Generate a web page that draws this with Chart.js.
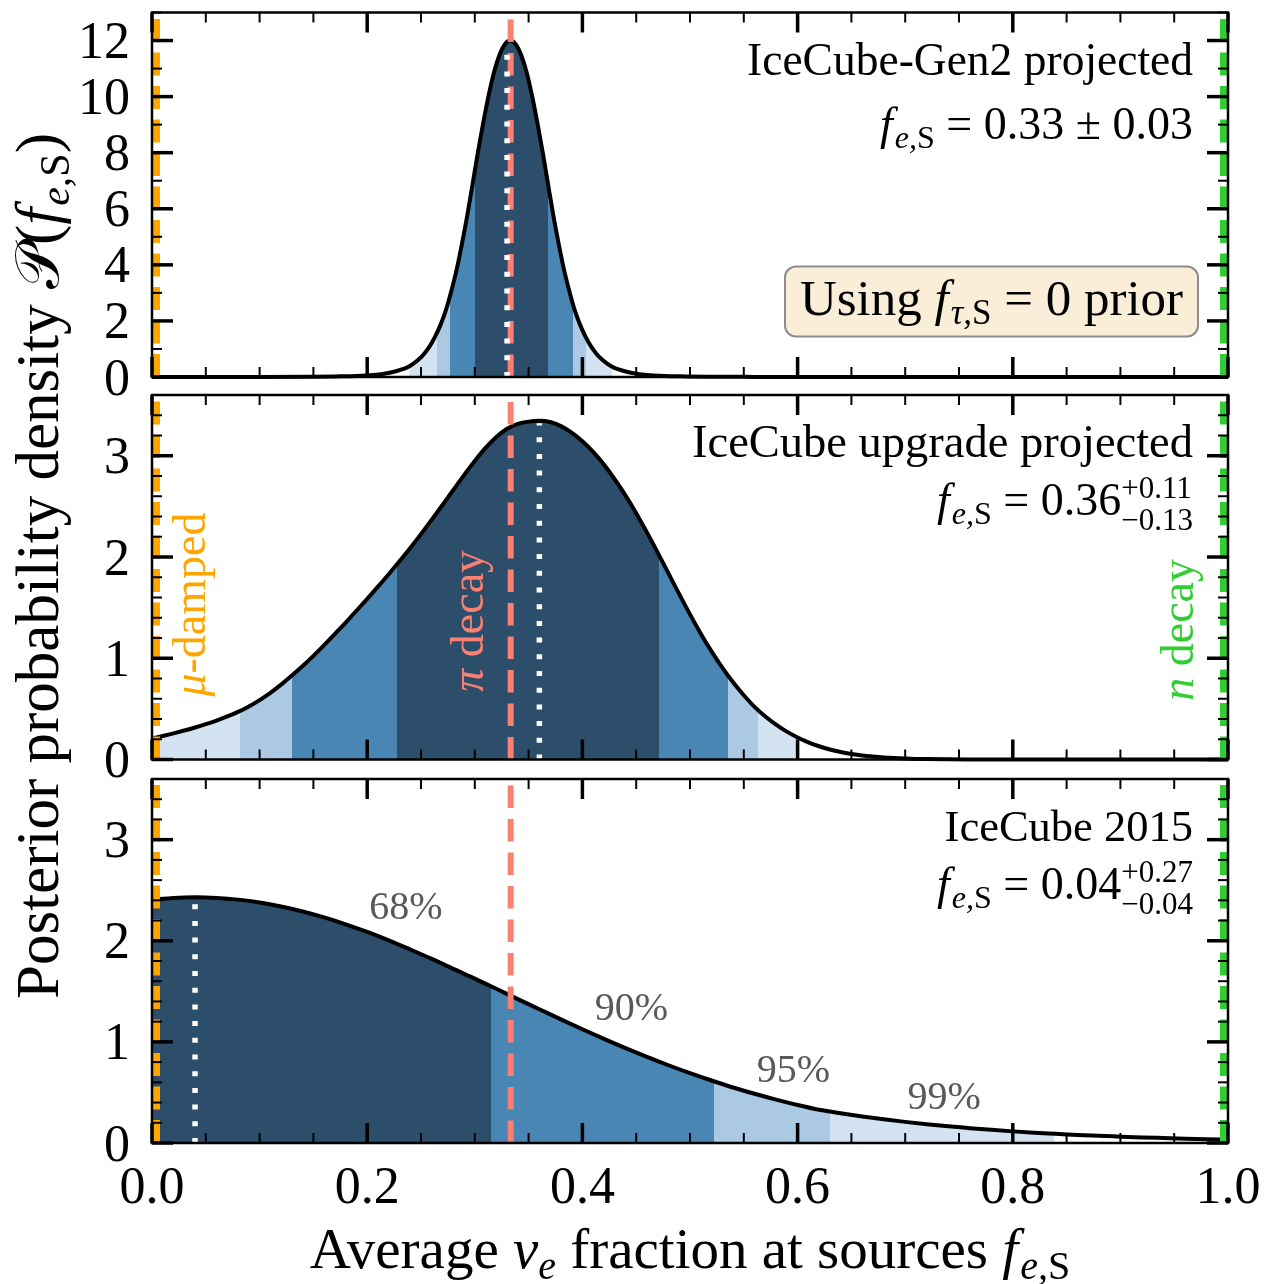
<!DOCTYPE html>
<html>
<head>
<meta charset="utf-8">
<title>Posterior of the average electron-neutrino fraction at sources</title>
<script src="https://cdn.jsdelivr.net/npm/chart.js@4.4.1/dist/chart.umd.min.js"></script>
<style>
  html, body { margin: 0; padding: 0; background: #ffffff; }
  #wrap { position: relative; width: 1269px; height: 1284px; overflow: hidden; }
  #wrap canvas { position: absolute; left: 0; top: 0; }
</style>
</head>
<body>
<div id="wrap">
  <canvas id="panelGen2" width="1269" height="1284"></canvas>
  <canvas id="panelUpgrade" width="1269" height="1284"></canvas>
  <canvas id="panel2015" width="1269" height="1284"></canvas>
</div>
<script>
// ---------------------------------------------------------------------------
// Posterior densities P(f_e,S) for three detector configurations
// ---------------------------------------------------------------------------

// IceCube-Gen2 projected
const gen2Frac = [0, 0.10, 0.15, 0.17, 0.19, 0.203, 0.213, 0.223, 0.233,
  0.238, 0.243, 0.248, 0.253, 0.258, 0.263, 0.268, 0.273, 0.278, 0.283, 0.288,
  0.293, 0.298, 0.303, 0.308, 0.313, 0.318, 0.323, 0.328, 0.333,
  0.338, 0.343, 0.348, 0.353, 0.358, 0.363, 0.368, 0.373, 0.378, 0.383, 0.388,
  0.393, 0.398, 0.403, 0.408, 0.413, 0.418, 0.423, 0.428,
  0.433, 0.443, 0.453, 0.463, 0.476, 0.496, 0.516, 0.55, 0.6, 1.0];
const gen2Dens = [0, 0, 0.01, 0.02, 0.035, 0.06, 0.10, 0.17, 0.28,
  0.36, 0.48, 0.63, 0.83, 1.09, 1.43, 1.85, 2.37, 3.04, 3.81, 4.74,
  5.76, 6.89, 8.04, 9.10, 10.07, 10.89, 11.49, 11.87, 12.0,
  11.87, 11.49, 10.89, 10.07, 9.10, 8.04, 6.89, 5.76, 4.74, 3.81, 3.04,
  2.37, 1.85, 1.43, 1.09, 0.83, 0.63, 0.48, 0.36,
  0.28, 0.17, 0.10, 0.06, 0.035, 0.02, 0.01, 0.005, 0, 0];

// IceCube upgrade projected
const upgradeFrac = [0.00, 0.01, 0.02, 0.03, 0.04, 0.05, 0.06, 0.07, 0.08, 0.09,
  0.10, 0.11, 0.12, 0.13, 0.14, 0.15, 0.16, 0.17, 0.18, 0.19,
  0.20, 0.21, 0.22, 0.23, 0.24, 0.25, 0.26, 0.27, 0.28, 0.29,
  0.30, 0.31, 0.32, 0.33, 0.34, 0.35, 0.36, 0.37, 0.38, 0.39,
  0.40, 0.41, 0.42, 0.43, 0.44, 0.45, 0.46, 0.47, 0.48, 0.49,
  0.50, 0.51, 0.52, 0.53, 0.54, 0.55, 0.56, 0.57, 0.58, 0.59,
  0.60, 0.61, 0.62, 0.63, 0.64, 0.65, 0.66, 0.67, 0.68, 0.69,
  0.70, 0.71, 0.72, 0.74, 0.76, 0.80, 0.90, 1.00];
const upgradeDens = [0.208, 0.232, 0.258, 0.286, 0.316, 0.349, 0.385, 0.425, 0.470, 0.524,
  0.587, 0.659, 0.740, 0.829, 0.923, 1.024, 1.130, 1.240, 1.353, 1.469,
  1.587, 1.707, 1.830, 1.957, 2.089, 2.226, 2.368, 2.514, 2.662, 2.809,
  2.949, 3.077, 3.185, 3.267, 3.315, 3.337, 3.345, 3.333, 3.293, 3.228,
  3.143, 3.038, 2.913, 2.768, 2.608, 2.433, 2.243, 2.043, 1.838, 1.633,
  1.433, 1.243, 1.068, 0.908, 0.763, 0.635, 0.520, 0.425, 0.345, 0.275,
  0.218, 0.170, 0.131, 0.099, 0.074, 0.055, 0.040, 0.029, 0.020, 0.014,
  0.0095, 0.006, 0.004, 0.0015, 0.0005, 0, 0, 0];

// IceCube 2015
const ic2015Frac = [0.00, 0.02, 0.04, 0.06, 0.08, 0.10, 0.12, 0.14, 0.16, 0.18,
  0.20, 0.22, 0.24, 0.26, 0.28, 0.30, 0.32, 0.34, 0.36, 0.38,
  0.40, 0.42, 0.44, 0.46, 0.48, 0.50, 0.52, 0.54, 0.56, 0.58,
  0.60, 0.62, 0.64, 0.66, 0.68, 0.70, 0.72, 0.74, 0.76, 0.78,
  0.80, 0.82, 0.84, 0.86, 0.88, 0.90, 0.92, 0.94, 0.96, 0.98, 1.00];
const ic2015Dens = [2.407, 2.424, 2.430, 2.424, 2.407, 2.379, 2.339, 2.290, 2.231, 2.163,
  2.087, 2.004, 1.914, 1.821, 1.722, 1.626, 1.525, 1.423, 1.323, 1.223,
  1.125, 1.030, 0.939, 0.852, 0.769, 0.691, 0.618, 0.549, 0.487, 0.429,
  0.376, 0.329, 0.294, 0.263, 0.234, 0.209, 0.186, 0.165, 0.147, 0.130,
  0.115, 0.102, 0.091, 0.080, 0.071, 0.063, 0.055, 0.049, 0.043, 0.038, 0.034];

// Credible intervals [low, high] of f_e,S
const gen2Bands    = { 68: [0.2998, 0.368], 90: [0.2766, 0.3913], 95: [0.2645, 0.4031], 99: [0.2387, 0.4279] };
const upgradeBands = { 68: [0.2277, 0.4710], 90: [0.1305, 0.5354], 95: [0.0822, 0.5634], 99: [0.0, 0.5994] };
const ic2015Bands  = { 68: [0.0, 0.3153], 90: [0.0, 0.5224], 95: [0.0, 0.6298], 99: [0.0, 0.8387] };

// Medians and the density reached at the median
const medianFrac = [0.33, 0.36, 0.04];
const medianDens = [11.9, 3.32, 2.42];

// Quoted results: median, +err, -err
const quotedMedian = ['0.33', '0.36', '0.04'];
const quotedPlus   = ['0.03', '0.11', '0.27'];
const quotedMinus  = ['0.03', '0.13', '0.04'];

// Benchmark source compositions: mu-damped, pion decay, neutron decay
const benchFrac  = [0, 1 / 3, 1];
const benchNames = ['-damped', ' decay', ' decay'];
const benchSym   = ['\u03BC', '\u03C0', 'n'];

// Tick steps
const fracTickStep = 0.2;
const densTickStepGen2 = 2;
const densTickStepOther = 1;

// ---------------------------------------------------------------------------
const LEVELS = [68, 90, 95, 99];
const LEVEL_COLORS = { 68: '#2c4e6b', 90: '#4a86b4', 95: '#abc9e2', 99: '#d3e3f2' };
const C_MU = '#ffa500', C_PI = '#fa8072', C_N = '#32cd32';
const SERIF = '"Liberation Serif", "DejaVu Serif", serif';

function fontStr(r, base) {
  return (r.it ? 'italic ' : '') + (r.size || base) + 'px ' + SERIF;
}
function runWidth(ctx, r, base) {
  if (r.stack) return Math.max.apply(null, r.stack.map(s => runWidth(ctx, s, base)));
  ctx.font = fontStr(r, base);
  return ctx.measureText(r.t).width + (r.kern || 0);
}
function drawRich(ctx, runs, x, y, opts) {
  const base = opts.size;
  ctx.save();
  ctx.fillStyle = opts.color || '#000';
  ctx.textBaseline = 'alphabetic';
  ctx.textAlign = 'left';
  const total = runs.reduce((s, r) => s + runWidth(ctx, r, base), 0);
  let cx = opts.align === 'right' ? x - total : opts.align === 'center' ? x - total / 2 : x;
  for (const r of runs) {
    const w = runWidth(ctx, r, base);
    for (const p of (r.stack || [r])) {
      ctx.font = fontStr(p, base);
      ctx.fillText(p.t, cx, y + (p.dy || 0));
    }
    cx += w;
  }
  ctx.restore();
}
function drawRotated(ctx, runs, x, y, opts) {
  ctx.save();
  ctx.translate(x, y);
  ctx.rotate(-Math.PI / 2);
  drawRich(ctx, runs, 0, 0, Object.assign({}, opts, { align: 'center' }));
  ctx.restore();
}
// f_{e,S}
function fes(size, subSize, dy) {
  return [
    { t: 'f', it: true, size: size, kern: 2 },
    { t: 'e,', it: true, size: subSize, dy: dy },
    { t: 'S', size: subSize, dy: dy }
  ];
}

function bandGradient(chart, bands) {
  const a = chart.chartArea;
  if (!a) return 'rgba(255,255,255,0)';
  const xs = chart.scales.x;
  const w = a.right - a.left;
  const pos = v => Math.min(1, Math.max(0, (xs.getPixelForValue(v) - a.left) / w));
  const edges = [0, 1];
  LEVELS.forEach(l => edges.push(bands[l][0], bands[l][1]));
  const uniq = Array.from(new Set(edges)).sort((p, q) => p - q);
  const g = chart.ctx.createLinearGradient(a.left, 0, a.right, 0);
  for (let i = 0; i < uniq.length - 1; i++) {
    const lo = uniq[i], hi = uniq[i + 1], mid = (lo + hi) / 2;
    const lvl = LEVELS.find(l => mid >= bands[l][0] && mid <= bands[l][1]);
    const c = lvl ? LEVEL_COLORS[lvl] : 'rgba(255,255,255,0)';
    g.addColorStop(pos(lo), c);
    g.addColorStop(pos(hi), c);
  }
  return g;
}

// inward ticks on all four sides, tick labels and the panel frame
function drawAxesFrame(chart, ySpec, showX) {
  const ctx = chart.ctx, a = chart.chartArea, x = chart.scales.x, y = chart.scales.y;
  ctx.save();
  ctx.strokeStyle = '#000';
  ctx.lineCap = 'butt';
  const seg = (x0, y0, x1, y1, w) => {
    ctx.lineWidth = w;
    ctx.beginPath(); ctx.moveTo(x0, y0); ctx.lineTo(x1, y1); ctx.stroke();
  };
  for (let i = 0; i <= 20; i++) {
    const major = i % 4 === 0, len = major ? 20 : 10, w = major ? 3.5 : 2;
    const px = x.getPixelForValue(i * 0.05);
    seg(px, a.bottom, px, a.bottom - len, w);
    seg(px, a.top, px, a.top + len, w);
  }
  const n = Math.round(ySpec.max / ySpec.minor);
  for (let i = 0; i <= n; i++) {
    const v = i * ySpec.minor;
    const r = v / ySpec.major;
    const major = Math.abs(r - Math.round(r)) < 1e-6;
    const len = major ? 21 : 10, w = major ? 3.5 : 2;
    const py = y.getPixelForValue(v);
    seg(a.left, py, a.left + len, py, w);
    seg(a.right, py, a.right - len, py, w);
  }
  ctx.lineWidth = 2.5;
  ctx.strokeRect(a.left, a.top, a.right - a.left, a.bottom - a.top);

  ctx.fillStyle = '#000';
  ctx.font = '52px ' + SERIF;
  ctx.textBaseline = 'alphabetic';
  ctx.textAlign = 'right';
  y.ticks.forEach(t => {
    ctx.fillText(String(Math.round(t.value)), a.left - 22, y.getPixelForValue(t.value) + 17.5);
  });
  if (showX) {
    ctx.textAlign = 'center';
    x.ticks.forEach(t => {
      ctx.fillText(Number(t.value).toFixed(1), x.getPixelForValue(t.value), a.bottom + 60);
    });
  }
  ctx.restore();
}

const PAGE_H = 1284, PAGE_W = 1269, AREA_LEFT = 152, AREA_RIGHT = 1228;

function makePanel(canvasId, cfg) {
  const pts = cfg.frac.map((x, i) => ({ x: x, y: cfg.dens[i] }));
  const vline = (x, color, width, dash, order, top) => ({
    data: [{ x: x, y: 0 }, { x: x, y: top }],
    borderColor: color, borderWidth: width, borderDash: dash,
    borderCapStyle: 'butt', pointRadius: 0, fill: false, order: order, clip: 0
  });
  return new Chart(document.getElementById(canvasId), {
    type: 'line',
    data: {
      datasets: [
        {
          data: pts,
          borderColor: '#000', borderWidth: 4,
          backgroundColor: c => bandGradient(c.chart, cfg.bands),
          fill: 'origin', cubicInterpolationMode: 'monotone',
          pointRadius: 0, order: 5, clip: 4
        },
        vline(benchFrac[0], C_MU, 16, [23, 10.5], 3, cfg.yMax),
        vline(benchFrac[2], C_N, 16, [23, 10.5], 3, cfg.yMax),
        vline(benchFrac[1], C_PI, 6, [22.5, 11], 2, cfg.yMax),
        vline(cfg.median, '#ffffff', 5.5, [5, 11.7], 1, cfg.medianDens)
      ]
    },
    options: {
      responsive: false,
      animation: false,
      devicePixelRatio: 1,
      events: [],
      layout: { padding: { top: cfg.top, bottom: PAGE_H - cfg.bottom, left: 0, right: PAGE_W - AREA_RIGHT } },
      plugins: { legend: { display: false }, tooltip: { enabled: false } },
      scales: {
        x: {
          type: 'linear', min: 0, max: 1, display: false,
          ticks: { stepSize: fracTickStep, autoSkip: false }
        },
        y: {
          type: 'linear', min: 0, max: cfg.yMax,
          grid: { display: false, drawTicks: false }, border: { display: false },
          ticks: { display: false, stepSize: cfg.yStep, includeBounds: false, autoSkip: false },
          afterFit: s => { s.width = AREA_LEFT; }
        }
      }
    },
    plugins: [{
      id: 'panelDecor',
      afterDraw: chart => {
        if (cfg.decorate) cfg.decorate(chart);
        drawAxesFrame(chart, { max: cfg.yMax, major: cfg.yStep, minor: cfg.yMinor }, cfg.showX);
      }
    }]
  });
}

function panelTexts(chart, title, titleSize, idx, titleDy, formulaDy) {
  const ctx = chart.ctx, a = chart.chartArea;
  const xr = a.right - 35;
  drawRich(ctx, [{ t: title }], xr, a.top + titleDy, { size: titleSize, align: 'right' });
  const runs = fes(46, 32, 9).concat([{ t: ' = ' + quotedMedian[idx] }]);
  if (quotedPlus[idx] === quotedMinus[idx]) {
    runs.push({ t: ' \u00B1 ' + quotedPlus[idx] });
  } else {
    runs.push({ stack: [
      { t: '+' + quotedPlus[idx], size: 31, dy: -17 },
      { t: '\u2212' + quotedMinus[idx], size: 31, dy: 15 }
    ] });
  }
  drawRich(ctx, runs, xr, a.top + formulaDy, { size: 46, align: 'right' });
}

function build() {
  makePanel('panelGen2', {
    frac: gen2Frac, dens: gen2Dens, bands: gen2Bands,
    median: medianFrac[0], medianDens: medianDens[0],
    yMax: 13, yStep: densTickStepGen2, yMinor: 1,
    top: 12.5, bottom: 377, showX: false,
    decorate: chart => {
      const ctx = chart.ctx;
      panelTexts(chart, 'IceCube-Gen2 projected', 45.5, 0, 62, 126);
      // prior box
      ctx.save();
      ctx.beginPath();
      ctx.roundRect(785, 266.5, 413, 70, 11);
      ctx.fillStyle = '#faeed9';
      ctx.fill();
      ctx.lineWidth = 2;
      ctx.strokeStyle = '#8c8c8c';
      ctx.stroke();
      ctx.restore();
      drawRich(ctx, [
        { t: 'Using ' }, { t: 'f', it: true, kern: 2 },
        { t: '\u03C4,', it: true, size: 35, dy: 9 }, { t: 'S', size: 35, dy: 9 },
        { t: ' = 0 prior' }
      ], 991.5, 315, { size: 51, align: 'center' });
    }
  });

  makePanel('panelUpgrade', {
    frac: upgradeFrac, dens: upgradeDens, bands: upgradeBands,
    median: medianFrac[1], medianDens: medianDens[1],
    yMax: 3.6, yStep: densTickStepOther, yMinor: 0.2,
    top: 395, bottom: 759.5, showX: false,
    decorate: chart => {
      const ctx = chart.ctx, x = chart.scales.x, y = chart.scales.y;
      panelTexts(chart, 'IceCube upgrade projected', 46.5, 1, 62, 120);
      const colors = [C_MU, C_PI, C_N];
      const anchorX = [0.049, 0.308, 0.9675];
      const anchorY = [1.53, 1.37, 1.28];
      for (let i = 0; i < 3; i++) {
        drawRotated(ctx, [{ t: benchSym[i], it: true }, { t: benchNames[i] }],
          x.getPixelForValue(anchorX[i]), y.getPixelForValue(anchorY[i]),
          { size: 46, color: colors[i] });
      }
      // shared y-axis title
      drawRotated(ctx, [
        { t: 'Posterior probability density ' },
        { t: '\uD835\uDCAB' }, { t: '(' },
        { t: 'f', it: true, kern: 2 }, { t: 'e,', it: true, size: 42, dy: 11 },
        { t: 'S', size: 42, dy: 11 }, { t: ')' }
      ], 58, 566, { size: 61 });
    }
  });

  makePanel('panel2015', {
    frac: ic2015Frac, dens: ic2015Dens, bands: ic2015Bands,
    median: medianFrac[2], medianDens: medianDens[2],
    yMax: 3.6, yStep: densTickStepOther, yMinor: 0.2,
    top: 779, bottom: 1143, showX: true,
    decorate: chart => {
      const ctx = chart.ctx, x = chart.scales.x, y = chart.scales.y;
      panelTexts(chart, 'IceCube 2015', 44.5, 2, 62, 120);
      const pctText = ['68%', '90%', '95%', '99%'];
      const pctX = [0.236, 0.4455, 0.5962, 0.7361];
      const pctY = [2.22, 1.215, 0.60, 0.34];
      for (let i = 0; i < 4; i++) {
        drawRich(ctx, [{ t: pctText[i] }], x.getPixelForValue(pctX[i]), y.getPixelForValue(pctY[i]),
          { size: 40, align: 'center', color: '#595959' });
      }
      // shared x-axis title
      drawRich(ctx, [
        { t: 'Average ' }, { t: '\u03BD', it: true }, { t: 'e', it: true, size: 40, dy: 11 },
        { t: ' fraction at sources ' },
        { t: 'f', it: true, kern: 2 }, { t: 'e,', it: true, size: 40, dy: 11 }, { t: 'S', size: 40, dy: 11 }
      ], (chart.chartArea.left + chart.chartArea.right) / 2, 1268, { size: 57, align: 'center' });
    }
  });
}

Promise.all([
  document.fonts.load('52px "Liberation Serif"'),
  document.fonts.load('italic 52px "Liberation Serif"')
]).then(build, build);
</script>
</body>
</html>
